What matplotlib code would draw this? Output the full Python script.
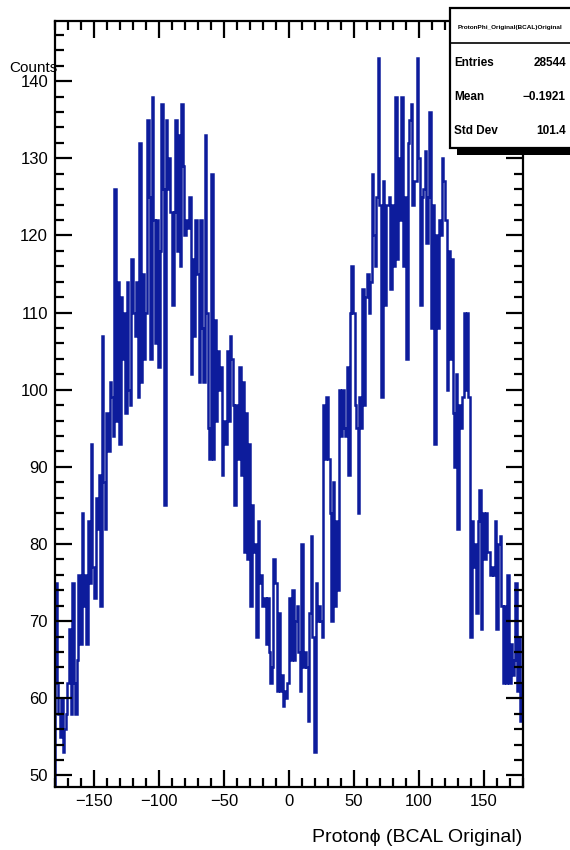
import numpy as np
import matplotlib.pyplot as plt
from matplotlib.patches import Rectangle
from matplotlib.lines import Line2D
from matplotlib.ticker import MultipleLocator

plt.rcParams['font.family'] = ['Liberation Sans', 'DejaVu Sans']

# ProtonPhi histogram, 300 bins over [-180, 180] degrees
phi_lo, phi_hi = -180, 180
counts = [
    75, 62, 58, 55, 60,   53, 56, 58, 62, 69,   58, 75, 62, 58, 65,
    76, 67, 84, 72, 76,   67, 83, 75, 93, 77,   73, 86, 82, 89, 72,
    107, 88, 82, 97, 92,  101, 99, 94, 126, 96, 114, 93, 112, 104, 110,
    97, 114, 100, 98, 117, 110, 107, 114, 99, 132, 101, 115, 104, 110, 135,
    125, 104, 138, 122, 106, 122, 103, 118, 137, 126, 85, 135, 126, 130, 123,
    111, 123, 135, 118, 133, 116, 137, 129, 120, 122, 121, 125, 102, 117, 107,
    122, 115, 101, 122, 108, 101, 133, 110, 95, 91,  128, 91, 109, 96, 105,
    100, 103, 89, 96, 93,  105, 96, 107, 104, 98,  85, 98, 91, 103, 89,
    101, 79, 97, 78, 93,   72, 85, 79, 80, 68,    83, 75, 76, 72, 73,
    67, 73, 66, 62, 64,    78, 75, 61, 71, 61,    63, 59, 61, 60, 62,
    73, 65, 74, 65, 70,    72, 66, 61, 80, 64,    66, 64, 57, 71, 81,
    68, 53, 75, 70, 72,    70, 68, 98, 91, 99,    91, 84, 70, 88, 72,
    83, 74, 100, 94, 100,  95, 94, 103, 89, 110,  116, 110, 98, 95, 84,
    99, 95, 113, 98, 112,  115, 110, 114, 128, 120, 116, 125, 143, 124, 99,
    127, 111, 124, 124, 125, 113, 124, 116, 138, 117, 130, 122, 138, 116, 125,
    104, 132, 135, 137, 124, 127, 127, 143, 130, 111, 125, 126, 131, 119, 125,
    136, 108, 124, 93, 120, 108, 122, 120, 130, 127, 122, 100, 118, 104, 117,
    97, 90, 102, 82, 98,   95, 99, 110, 100, 110, 99, 68, 83, 77, 80,
    71, 83, 87, 69, 84,    78, 84, 79, 79, 76,    77, 76, 83, 69, 80,
    81, 72, 62, 72, 62,    76, 62, 67, 63, 65,    75, 61, 68, 57, 62,
]
edges = np.linspace(phi_lo, phi_hi, len(counts) + 1)

x_ticks = [-150, -100, -50, 0, 50, 100, 150]
y_ticks = [50, 60, 70, 80, 90, 100, 110, 120, 130, 140]

hist_name = "ProtonPhi_Original(BCAL)Original"
stat_names = ["Entries", "Mean", "Std Dev"]
stat_values = ["28544", "\u22120.1921", "101.4"]

W, H = 570, 850
fig = plt.figure(figsize=(W / 100, H / 100), dpi=100)


def fx(x):
    return x / W


def fy(y):
    return 1 - y / H


ax = fig.add_axes([fx(55), fy(787), fx(523) - fx(55), fy(21) - fy(787)])
ax.stairs(counts, edges, color='#0d1c9c', linewidth=1.8)
ax.set_xlim(phi_lo, phi_hi)
ax.set_ylim(48.5, 147.8)

ax.set_xticks(x_ticks)
ax.set_yticks(y_ticks)
ax.xaxis.set_minor_locator(MultipleLocator(10))
ax.yaxis.set_minor_locator(MultipleLocator(2))
ax.tick_params(which='both', direction='in', top=True, right=True,
               width=1.6, color='black', labelsize=12)
ax.tick_params(which='major', length=12)
ax.tick_params(which='minor', length=6.3)
ax.tick_params(axis='x', pad=5)
ax.tick_params(axis='y', pad=5)
for s in ax.spines.values():
    s.set_linewidth(1.6)

fig.text(fx(522), fy(838), "Proton\u03d5 (BCAL Original)", ha='right', va='center',
         fontsize=14)
fig.text(fx(9), fy(68), "Counts", ha='left', va='center', fontsize=11)

# stats box with drop shadow
bx0, by0, bx1, by1 = 450, 8, 578, 148
sh = 7
fig.add_artist(Rectangle((fx(bx0 + sh), fy(by1 + sh)), fx(bx1) - fx(bx0), fy(by0) - fy(by1),
                         transform=fig.transFigure, facecolor='black', edgecolor='none', zorder=10))
fig.add_artist(Rectangle((fx(bx0), fy(by1)), fx(bx1) - fx(bx0), fy(by0) - fy(by1),
                         transform=fig.transFigure, facecolor='white', edgecolor='black',
                         linewidth=1.6, zorder=11))
fig.add_artist(Line2D([fx(bx0), fx(bx1)], [fy(43), fy(43)], transform=fig.transFigure,
                      color='black', linewidth=1.2, zorder=12))
fig.text(fx(510), fy(27), hist_name, ha='center', va='center', fontsize=4.6,
         fontweight='bold', zorder=13)
for i, (name, val) in enumerate(zip(stat_names, stat_values)):
    yy = 63 + i * 34
    fig.text(fx(454), fy(yy), name, ha='left', va='center', fontsize=8.5,
             fontweight='bold', zorder=13)
    fig.text(fx(566), fy(yy), val, ha='right', va='center', fontsize=8.5,
             fontweight='bold', zorder=13)

fig.savefig('out.png', dpi=100)
